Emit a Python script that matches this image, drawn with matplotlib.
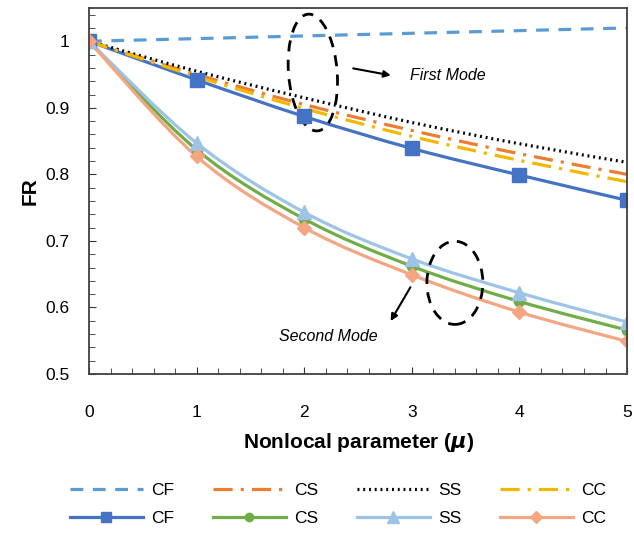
import matplotlib.pyplot as plt
from matplotlib.patches import Ellipse, PathPatch
from matplotlib.path import Path
from matplotlib.lines import Line2D

mu = [0, 1, 2, 3, 4, 5]

# first mode
cf1 = [1.0, 1.004, 1.008, 1.012, 1.016, 1.02]
cs1 = [1.0, 0.950, 0.905, 0.866, 0.831, 0.800]
ss1 = [1.0, 0.955, 0.915, 0.878, 0.846, 0.818]
cc1 = [1.0, 0.947, 0.899, 0.857, 0.821, 0.789]

# second mode
cf2 = [1.0, 0.942, 0.887, 0.839, 0.799, 0.761]
cs2 = [1.0, 0.837, 0.733, 0.662, 0.609, 0.566]
ss2 = [1.0, 0.847, 0.743, 0.673, 0.622, 0.578]
cc2 = [1.0, 0.827, 0.720, 0.649, 0.593, 0.549]

plt.rcParams["font.family"] = ["Liberation Sans", "DejaVu Sans"]


def smooth_path(x, y):
    # bezier curve through the points, like Excel's "smoothed line"
    n = len(x)
    verts = [(x[0], y[0])]
    codes = [Path.MOVETO]
    for i in range(n - 1):
        a = max(i - 1, 0)
        b = min(i + 2, n - 1)
        c1 = (x[i] + (x[i + 1] - x[a]) / 6, y[i] + (y[i + 1] - y[a]) / 6)
        c2 = (x[i + 1] - (x[b] - x[i]) / 6, y[i + 1] - (y[b] - y[i]) / 6)
        verts += [c1, c2, (x[i + 1], y[i + 1])]
        codes += [Path.CURVE4] * 3
    return Path(verts, codes)


fig = plt.figure(figsize=(6.34, 5.33), dpi=100)
ax = fig.add_axes([0.1404, 0.2983, 0.8486, 0.6867])

dash = (0, (4, 3))
dashdot = (0, (6, 2.5, 1, 2.5))
dot = (0, (0.6, 1.2))

series = [
    (cf1, "#5B9BD5", dash, None, 0, "CF"),
    (cf2, "#4472C4", "-", "s", 9.5, "CF"),
    (cs1, "#ED7D31", dashdot, None, 0, "CS"),
    (cs2, "#70AD47", "-", "o", 7.5, "CS"),
    (ss1, "black", dot, None, 0, "SS"),
    (ss2, "#9DC3E6", "-", "^", 10, "SS"),
    (cc1, "#F2B800", dashdot, None, 0, "CC"),
    (cc2, "#F4A582", "-", "D", 7.5, "CC"),
]

handles = []
for vals, col, ls, mk, ms, lab in series:
    ax.add_patch(PathPatch(smooth_path(mu, vals), fill=False, ec=col, lw=2.3, ls=ls,
                           capstyle="butt"))
    if mk:
        ax.plot(mu, vals, ls="none", marker=mk, ms=ms, color=col)
    handles.append(Line2D([], [], color=col, lw=2.3, ls=ls, marker=mk, ms=ms * 0.8))

ax.set_xlim(0, 5)
ax.set_ylim(0.5, 1.05)
ax.set_xticks(mu)
ax.set_yticks([0.5, 0.6, 0.7, 0.8, 0.9, 1.0])
ax.set_yticklabels(["0.5", "0.6", "0.7", "0.8", "0.9", "1"])
ax.set_xticks([i * 0.2 for i in range(26)], minor=True)
ax.set_yticks([0.5 + i * 0.02 for i in range(28)], minor=True)
ax.tick_params(which="both", direction="in", labelsize=12.5, color="#333333")
ax.tick_params(which="major", length=5, pad=14)
ax.tick_params(which="minor", length=4)
ax.tick_params(axis="x", pad=22)
for s in ax.spines.values():
    s.set_color("#404040")
    s.set_linewidth(1.3)

ax.set_xlabel("Nonlocal parameter ($\\mathbfit{\\mu}$)", fontsize=15, fontweight="bold", labelpad=8)
ax.set_ylabel("FR", fontsize=15, fontweight="bold", labelpad=4)

# mode annotations
ax.add_patch(Ellipse((2.08, 0.953), 0.46, 0.173, angle=-4, fill=False, ec="black", lw=2,
                     ls=(0, (4, 3))))
ax.annotate("", xy=(2.83, 0.948), xytext=(2.43, 0.960),
            arrowprops=dict(arrowstyle="-|>", color="black", lw=1.5))
ax.text(2.98, 0.948, "First Mode", fontsize=11.5, style="italic", va="center")

ax.add_patch(Ellipse((3.40, 0.637), 0.52, 0.125, fill=False, ec="black", lw=2,
                     ls=(0, (4, 3))))
ax.annotate("", xy=(2.79, 0.576), xytext=(3.0, 0.634),
            arrowprops=dict(arrowstyle="-|>", color="black", lw=1.5))
ax.text(1.77, 0.556, "Second Mode", fontsize=11.5, style="italic", va="center")

ax.legend(handles, [s[5] for s in series], ncol=4, loc="upper center",
          bbox_to_anchor=(0.463, -0.254), frameon=False,
          fontsize=12.5, handlelength=4.2, columnspacing=2.2, labelspacing=0.75,
          handletextpad=0.5)

fig.savefig("out.png", dpi=100)
